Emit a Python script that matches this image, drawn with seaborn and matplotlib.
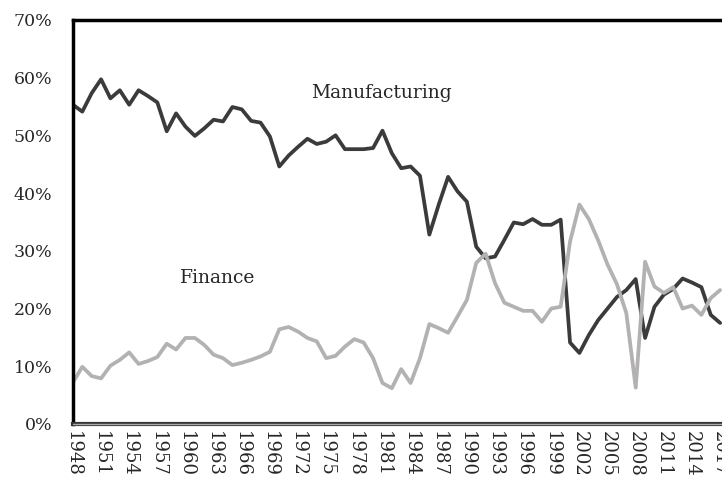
import pandas as pd
import matplotlib
matplotlib.use("Agg")
import matplotlib.pyplot as plt
import seaborn as sns

years = list(range(1948, 2018))

manufacturing = [
    55.3, 54.1, 57.3, 59.7, 56.4, 57.8, 55.3, 57.8, 56.8, 55.7,
    50.7, 53.8, 51.5, 49.9, 51.2, 52.7, 52.4, 54.9, 54.5, 52.5,
    52.2, 49.8, 44.6, 46.5, 48.0, 49.4, 48.5, 48.9, 50.0, 47.6,
    47.6, 47.6, 47.8, 50.8, 46.9, 44.3, 44.6, 43.0, 32.8, 38.0,
    42.8, 40.3, 38.5, 30.7, 28.7, 29.0, 31.9, 34.9, 34.6, 35.5,
    34.5, 34.5, 35.4, 14.1, 12.3, 15.4, 18.0, 20.0, 22.0, 23.2,
    25.1, 14.9, 20.3, 22.4, 23.4, 25.2, 24.5, 23.7, 18.9, 17.5,
]

finance = [
    7.2, 9.9, 8.3, 7.9, 10.1, 11.1, 12.4, 10.4, 10.9, 11.6,
    13.9, 12.9, 14.9, 14.9, 13.7, 12.0, 11.4, 10.2, 10.6, 11.1,
    11.7, 12.5, 16.4, 16.8, 16.0, 14.9, 14.3, 11.4, 11.8, 13.4,
    14.7, 14.1, 11.4, 7.1, 6.2, 9.5, 7.1, 11.4, 17.3, 16.6,
    15.8, 18.6, 21.5, 27.9, 29.5, 24.4, 21.0, 20.3, 19.6, 19.6,
    17.7, 20.0, 20.3, 31.6, 38.0, 35.5, 31.8, 27.6, 24.2, 19.2,
    6.3, 28.1, 23.8, 22.7, 23.7, 20.0, 20.5, 18.9, 21.8, 23.2,
]

y_ticks = [0, 10, 20, 30, 40, 50, 60, 70]
x_ticks = list(range(1948, 2018, 3))

df = pd.DataFrame({"Year": years, "Manufacturing": manufacturing, "Finance": finance})
long_df = df.melt(id_vars="Year", var_name="Sector", value_name="Share")

sns.set_style("white")
plt.rcParams["font.family"] = ["DejaVu Serif"]

fig = plt.figure(figsize=(7.22, 4.84), dpi=100)
ax = fig.add_axes([0.101, 0.124, 0.899, 0.835])

sns.lineplot(data=long_df, x="Year", y="Share", hue="Sector",
             palette={"Manufacturing": "#3b3b3b", "Finance": "#b3b1b1"},
             linewidth=2.7, legend=False, ax=ax)

ax.set_xlim(1948, 2017.2)
ax.set_ylim(0, 70)
ax.set_yticks(y_ticks)
ax.set_yticklabels([f"{v}%" for v in y_ticks], fontsize=12.5)
ax.set_xticks(x_ticks)
ax.set_xticklabels([str(y) for y in x_ticks], rotation=-90, fontsize=13)
ax.tick_params(axis="y", length=0, pad=15)
ax.tick_params(axis="x", length=0, pad=5)
ax.set_xlabel("")
ax.set_ylabel("")

for side in ["left", "top"]:
    ax.spines[side].set_color("black")
    ax.spines[side].set_linewidth(2.5)
ax.spines["bottom"].set_color("#333333")
ax.spines["bottom"].set_linewidth(3)
ax.spines["right"].set_visible(False)
ax.axhline(0, color="#aaaaaa", linewidth=1, zorder=5, clip_on=False)

ax.text(1980.9, 57.4, "Manufacturing", ha="center", va="center", fontsize=13.5)
ax.text(1963.4, 25.3, "Finance", ha="center", va="center", fontsize=13.5)

fig.savefig("out.png", dpi=100)
